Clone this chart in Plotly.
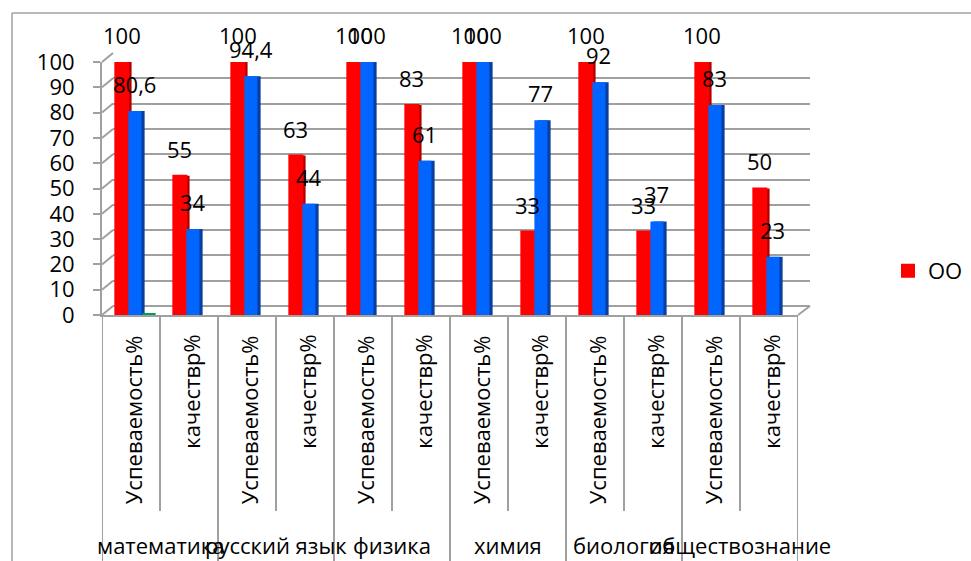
import plotly.graph_objects as go

W, H = 971, 561

groups = ["математика", "русский язык", "физика", "химия", "биология", "обществознание"]
subcats = ["Успеваемость%", "качествр%"]
red_vals = [100, 55, 100, 63, 100, 83, 100, 33, 100, 33, 100, 50]
blue_vals = [80.6, 34, 94.4, 44, 100, 61, 100, 77, 92, 37, 83, 23]
green_vals = [0, None, None, None, None, None, None, None, None, None, None, None]
yticks = [0, 10, 20, 30, 40, 50, 60, 70, 80, 90, 100]

FONT = "Open Sans"
FS = 22
GRID = "#A0A0A0"
RED, RED_D = "#FF0000", "#B00000"
BLUE, BLUE_D = "#0066FF", "#0A3FA0"
GREEN = "#00A050"


def px(x):
    return x / W


def py(y):
    return 1 - y / H


def fmt(v):
    s = ("%g" % v)
    return s.replace(".", ",")


n = len(red_vals)
xs = list(range(n))
BW = 0.225
SIDE = 0.055
red_off = -0.27
blue_off = red_off + BW

fig = go.Figure()
# invisible trace for the back-wall grid subplot
fig.add_trace(go.Scatter(x=[0], y=[0], mode="markers", marker=dict(opacity=0),
                         xaxis="x", yaxis="y", showlegend=False, hoverinfo="skip"))

fig.add_trace(go.Bar(x=xs, y=red_vals, offset=red_off + SIDE, width=BW,
                     marker=dict(color=RED_D, line=dict(width=0)),
                     xaxis="x2", yaxis="y2", showlegend=False, hoverinfo="skip"))
fig.add_trace(go.Bar(x=xs, y=red_vals, offset=red_off, width=BW, name="ОО",
                     marker=dict(color=RED, line=dict(width=2, color=RED)),
                     xaxis="x2", yaxis="y2", showlegend=True))
fig.add_trace(go.Bar(x=xs, y=blue_vals, offset=blue_off + SIDE, width=BW,
                     marker=dict(color=BLUE_D, line=dict(width=0)),
                     xaxis="x2", yaxis="y2", showlegend=False, hoverinfo="skip"))
fig.add_trace(go.Bar(x=xs, y=blue_vals, offset=blue_off, width=BW,
                     marker=dict(color=BLUE, line=dict(width=0)),
                     xaxis="x2", yaxis="y2", showlegend=False))
fig.add_trace(go.Bar(x=xs, y=green_vals, offset=blue_off + BW + 0.02, width=BW,
                     marker=dict(color=GREEN, line=dict(width=4, color=GREEN)),
                     xaxis="x2", yaxis="y2", showlegend=False))

annotations = []
for i in range(n):
    annotations.append(dict(x=i + red_off + BW / 2, y=red_vals[i], xref="x2", yref="y2",
                            text=fmt(red_vals[i]), showarrow=False, yshift=27,
                            font=dict(family=FONT, size=FS, color="black")))
    annotations.append(dict(x=i + blue_off + BW / 2, y=blue_vals[i], xref="x2", yref="y2",
                            text=fmt(blue_vals[i]), showarrow=False, yshift=27,
                            font=dict(family=FONT, size=FS, color="black")))
    annotations.append(dict(x=i + 0.03, y=py(333), xref="x2", yref="paper",
                            text=subcats[i % 2], textangle=-90, showarrow=False,
                            xanchor="center", yanchor="top",
                            font=dict(family=FONT, size=FS, color="black")))
for g, name in enumerate(groups):
    annotations.append(dict(x=2 * g + 0.5, y=py(545), xref="x2", yref="paper",
                            text=name, showarrow=False, xanchor="center", yanchor="middle",
                            font=dict(family=FONT, size=FS, color="black")))

shapes = []
line = dict(color=GRID, width=2)
# category dividers
for k in range(n + 1):
    bottom = 561 if k % 2 == 0 else 511
    shapes.append(dict(type="line", xref="x2", yref="paper", x0=k - 0.5, x1=k - 0.5,
                       y0=py(315), y1=py(bottom), line=line))
# left wall slants
for v in yticks:
    yf = 315 - v * 2.53
    yb = 306 - v * 2.53
    shapes.append(dict(type="line", xref="paper", yref="paper", x0=px(102), x1=px(113),
                       y0=py(yf), y1=py(yb), line=line))
# floor right slant
shapes.append(dict(type="line", xref="paper", yref="paper", x0=px(798), x1=px(810),
                   y0=py(315), y1=py(306), line=line))
# outer frame
shapes.append(dict(type="line", xref="paper", yref="paper", x0=px(12), x1=px(12),
                   y0=py(13), y1=py(570), line=dict(color=GRID, width=1.5)))
shapes.append(dict(type="line", xref="paper", yref="paper", x0=px(12), x1=px(980),
                   y0=py(13), y1=py(13), line=dict(color=GRID, width=1.5)))

fig.update_layout(
    width=W, height=H,
    margin=dict(l=0, r=0, t=0, b=0),
    paper_bgcolor="white", plot_bgcolor="rgba(0,0,0,0)",
    barmode="overlay",
    font=dict(family=FONT, size=FS, color="black"),
    xaxis=dict(domain=[px(113), px(810)], range=[0, 1], showgrid=False, zeroline=False,
               showticklabels=False, showline=False, fixedrange=True),
    yaxis=dict(domain=[py(306), py(53)], range=[0, 100], dtick=10, showgrid=True,
               gridcolor=GRID, gridwidth=2, zeroline=True, zerolinecolor=GRID,
               zerolinewidth=2, showticklabels=False, ticks="", anchor="x"),
    xaxis2=dict(domain=[px(102), px(798)], range=[-0.5, n - 0.5], showgrid=False,
                zeroline=False, showticklabels=False, ticks="", showline=True,
                linecolor=GRID, linewidth=2, anchor="y2"),
    yaxis2=dict(domain=[py(315), py(62)], range=[0, 100], tickvals=yticks,
                showgrid=False, zeroline=False, showline=True, linecolor=GRID,
                linewidth=2, ticks="outside", ticklen=7, tickwidth=2, tickcolor=GRID,
                tickfont=dict(family=FONT, size=FS, color="black"),
                ticklabelstandoff=14, anchor="x2", automargin=False),
    legend=dict(x=px(888), y=py(271), xanchor="left", yanchor="middle",
                font=dict(family=FONT, size=FS, color="black"),
                bgcolor="rgba(0,0,0,0)", itemwidth=30),
    showlegend=True,
    annotations=annotations,
    shapes=shapes,
)

fig.write_html("out.html", post_script="document.body.style.margin='0';",
               config={"displayModeBar": False})
